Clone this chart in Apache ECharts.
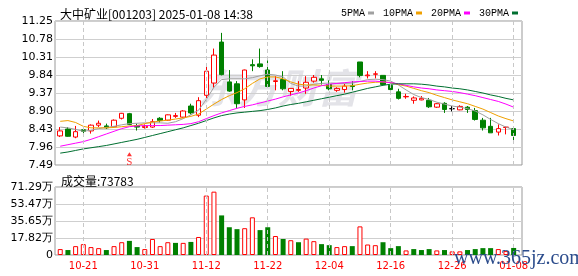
<!DOCTYPE html>
<html><head><meta charset="utf-8">
<script src="https://cdn.jsdelivr.net/npm/echarts@6/dist/echarts.min.js"></script>
<style>html,body{margin:0;padding:0;background:#fff}#c{width:578px;height:276px}</style>
</head><body><div id="c"></div>
<script>
const titleText = '大中矿业[001203] 2025-01-08 14:38';
const volTitle = '成交量:73783';
const maNames = ['5PMA','10PMA','20PMA','30PMA'];
const dates = ['10-16','10-17','10-18','10-21','10-22','10-23','10-24','10-25','10-28','10-29','10-30','10-31',
 '11-01','11-04','11-05','11-06','11-07','11-08','11-11','11-12','11-13','11-14','11-15','11-18','11-19','11-20','11-21','11-22',
 '11-25','11-26','11-27','11-28','11-29','12-02','12-03','12-04','12-05','12-06','12-09','12-10','12-11','12-12','12-13','12-16',
 '12-17','12-18','12-19','12-20','12-23','12-24','12-25','12-26','12-27','12-30','12-31','01-02','01-03','01-06','01-07','01-08'];
const xLabelDates = ['10-21','10-31','11-12','11-22','12-04','12-16','12-26','01-08'];
const opens  = [8.25,8.43,8.22,8.41,8.38,8.53,8.51,8.49,8.71,8.83,8.52,8.47,8.48,8.71,8.66,8.76,8.74,9.03,8.79,9.31,
 9.63,10.70,9.66,9.61,9.19,10.11,10.13,9.97,9.67,9.72,9.41,9.44,9.50,9.68,9.74,9.59,9.44,9.46,9.56,10.18,
 9.82,9.86,9.83,9.57,9.40,9.27,9.18,9.19,9.18,9.00,9.10,8.96,8.93,9.00,8.91,8.66,8.50,8.35,8.47,8.44];
const closes = [8.38,8.24,8.36,8.37,8.53,8.58,8.46,8.66,8.84,8.55,8.48,8.50,8.62,8.65,8.80,8.78,8.90,8.85,9.17,9.94,
 10.36,9.85,9.42,9.09,9.97,10.08,10.06,9.54,9.69,9.48,9.49,9.46,9.65,9.78,9.70,9.48,9.49,9.55,9.54,9.83,
 9.84,9.87,9.59,9.46,9.23,9.28,9.24,9.23,9.01,9.09,8.94,8.96,9.02,8.94,8.68,8.46,8.33,8.44,8.48,8.26];
const highs  = [8.48,8.48,8.51,8.46,8.55,8.65,8.57,8.68,8.85,8.85,8.57,8.55,8.69,8.74,8.81,8.85,8.92,9.09,9.26,10.13,
 10.53,10.94,9.97,9.68,9.98,10.25,10.53,10.22,9.81,9.94,9.49,9.68,9.81,9.84,9.84,9.70,9.52,9.61,9.68,10.18,
 9.94,9.94,9.83,9.61,9.48,9.35,9.28,9.29,9.24,9.11,9.13,9.03,9.05,9.03,8.98,8.72,8.72,8.55,8.49,8.44];
const lows   = [8.22,8.23,8.19,8.27,8.31,8.48,8.43,8.46,8.68,8.53,8.39,8.44,8.46,8.60,8.64,8.72,8.72,8.81,8.74,9.24,
 9.51,9.83,9.40,8.98,8.98,9.94,10.03,9.50,9.44,9.44,9.30,9.40,9.35,9.64,9.59,9.44,9.40,9.38,9.44,9.78,
 9.75,9.75,9.57,9.44,9.20,9.22,9.09,9.18,8.98,8.98,8.85,8.89,8.92,8.85,8.65,8.39,8.33,8.26,8.29,8.13];
const ma5  = [8.48,8.46,8.42,8.37,8.40,8.44,8.47,8.50,8.54,8.57,8.58,8.59,8.59,8.59,8.58,8.62,8.70,8.80,8.92,9.20,
 9.52,9.72,9.74,9.74,9.74,9.77,9.82,9.86,9.84,9.79,9.62,9.55,9.55,9.60,9.62,9.63,9.62,9.62,9.63,9.67,
 9.72,9.73,9.72,9.68,9.58,9.45,9.33,9.25,9.20,9.13,9.08,9.03,9.00,8.96,8.90,8.80,8.68,8.57,8.48,8.41];
const ma10 = [8.63,8.65,8.60,8.50,8.46,8.46,8.46,8.47,8.49,8.51,8.52,8.57,8.61,8.64,8.66,8.69,8.72,8.76,8.82,8.95,
 9.08,9.20,9.30,9.38,9.48,9.62,9.74,9.79,9.79,9.74,9.66,9.60,9.58,9.58,9.57,9.55,9.55,9.55,9.56,9.60,
 9.63,9.65,9.66,9.64,9.59,9.55,9.49,9.43,9.38,9.31,9.25,9.19,9.14,9.09,9.02,8.95,8.86,8.77,8.70,8.64];
const ma20 = [7.98,8.02,8.06,8.10,8.16,8.23,8.30,8.37,8.44,8.49,8.51,8.52,8.52,8.52,8.53,8.54,8.55,8.57,8.62,8.70,
 8.78,8.85,8.91,8.97,9.02,9.06,9.11,9.16,9.21,9.27,9.32,9.37,9.43,9.50,9.56,9.60,9.62,9.64,9.66,9.67,
 9.68,9.68,9.66,9.64,9.61,9.57,9.53,9.50,9.48,9.45,9.43,9.41,9.38,9.34,9.30,9.25,9.20,9.15,9.08,9.00];
const ma30 = [7.80,7.83,7.87,7.91,7.94,7.97,8.00,8.04,8.08,8.12,8.16,8.21,8.26,8.31,8.36,8.41,8.46,8.52,8.58,8.65,
 8.72,8.78,8.82,8.85,8.87,8.89,8.91,8.94,8.98,9.03,9.07,9.10,9.14,9.18,9.22,9.26,9.30,9.34,9.39,9.44,
 9.49,9.53,9.57,9.60,9.61,9.61,9.61,9.60,9.58,9.55,9.53,9.50,9.48,9.45,9.41,9.37,9.32,9.28,9.23,9.19];
// volume in 万手
const volumes = [6.2,5.2,9.3,11.4,8.3,7.2,5.2,9.3,13.4,14.8,8.3,6.2,16.8,9.3,13.4,12.7,12.7,13.7,18.9,62.3,
 66.4,41.5,29.1,27.1,28.1,39.5,26.1,29.1,19.9,16.8,15.5,13.4,17.2,14.5,11.4,10.3,8.3,9.3,9.3,30.0,
 11.0,10.3,13.4,7.2,9.3,4.8,6.2,5.2,6.2,4.8,5.2,3.8,3.8,5.2,6.2,7.2,7.2,6.2,4.1,7.3783];
const volDir = [1,-1,1,1,1,1,-1,1,1,-1,-1,1,1,1,1,-1,1,-1,1,1,
 1,-1,-1,-1,1,1,-1,-1,1,-1,1,-1,1,1,-1,-1,1,1,-1,1,
 1,1,-1,-1,-1,1,-1,-1,-1,1,-1,1,1,-1,-1,-1,-1,1,1,-1];
const priceTicks = ['7.49','7.96','8.43','8.90','9.37','9.84','10.31','10.78','11.25'];
const volTicks = ['0','17.82万','35.65万','53.47万','71.29万'];
const signalDate = '10-29', signalPrice = 7.77, signalText = 'S';

const RED = '#ff0000', GREEN = '#008000';
const maColors = ['#a0a0a0','#f0a000','#ff00ff','#006f30'];
const gridLine = '#cfcfcf';
const vlines = xLabelDates.map(d => ({xAxis: d}));
const vlineStyle = {color:'#c8c8c8', type:[4,3], width:1};

const chart = echarts.init(document.getElementById('c'), null, {renderer:'canvas'});
const L = 55, R = 56, DL = 56.4, DR = 60.5;
const option = {
  animation: false,
  backgroundColor: '#fff',
  textStyle: {fontFamily: '"DejaVu Sans", sans-serif'},
  title: [
    {text: titleText, left: 55, top: 3, textStyle:{fontSize:12, fontWeight:'normal', color:'#000', fontFamily:'"Noto Sans CJK SC"'}},
    {text: volTitle, left: 56, top: 170, textStyle:{fontSize:12, fontWeight:'normal', color:'#000', fontFamily:'"Noto Sans CJK SC"'}}
  ],
  legend: {
    data: maNames, left: 336, top: 3, align:'right', icon:'rect', itemWidth:6, itemHeight:3, itemGap:9,
    textStyle:{fontSize:10, color:'#000', fontFamily:'"Liberation Mono"', padding:[0,-2,0,0]}
  },
  graphic: [
    {type:'text', left: 198, top: 68, z: 0, silent:true,
     style:{text:'东方财富', font:'italic bold 40px "Noto Sans CJK SC"', fill:'#e3e3e8'}},
    {type:'text', left: 454, top: 249, z: 100, silent:true,
     style:{text:'www.365jz.com', font:'20px "Liberation Serif"', fill:'#2c4c8c'}}
  ],
  grid: [
    {left:L, right:R, top:21, bottom:111, show:true, borderColor:'#999', borderWidth:1, backgroundColor:'transparent'},
    {left:DL, right:DR, top:21, bottom:111},
    {left:L, right:R, top:187, bottom:21, show:true, borderColor:'#999', borderWidth:1, backgroundColor:'transparent'},
    {left:DL, right:DR, top:187, bottom:21}
  ],
  xAxis: [
    {gridIndex:0, type:'value', min:0, max:1, show:false},
    {gridIndex:1, type:'category', data:dates, boundaryGap:true, axisLine:{show:false}, axisTick:{show:false}, axisLabel:{show:false}, splitLine:{show:false}},
    {gridIndex:2, type:'value', min:0, max:1, show:false},
    {gridIndex:3, type:'category', data:dates, boundaryGap:true, axisLine:{show:false}, axisTick:{show:false}, splitLine:{show:false},
     axisLabel:{show:true, interval:(i, v) => xLabelDates.indexOf(v) >= 0, color:RED, fontSize:10, margin:6, fontFamily:'"DejaVu Sans"'}}
  ],
  yAxis: [
    {gridIndex:0, type:'value', min:7.49, max:11.25, interval:0.47, axisLine:{show:false}, axisTick:{show:false},
     splitLine:{show:true, lineStyle:{color:gridLine, width:1}},
     axisLabel:{margin:2, fontSize:11, color:'#000', fontFamily:'"DejaVu Sans"',
       formatter: v => priceTicks.find(t => Math.abs(parseFloat(t) - v) < 0.01) || ''}},
    {gridIndex:1, type:'value', min:7.49, max:11.25, show:false},
    {gridIndex:2, type:'value', min:0, max:71.29, interval:17.8225, axisLine:{show:false}, axisTick:{show:false},
     splitLine:{show:true, lineStyle:{color:gridLine, width:1}},
     axisLabel:{margin:2, fontSize:11, color:'#000', fontFamily:'"DejaVu Sans"',
       formatter: v => volTicks[Math.round(v / 17.8225)]}},
    {gridIndex:3, type:'value', min:0, max:71.29, show:false}
  ],
  series: [
    {type:'candlestick', name:'K', xAxisIndex:1, yAxisIndex:1, barWidth:5,
     data: dates.map((d, i) => [opens[i], closes[i], lows[i], highs[i]]),
     itemStyle:{color:'#ffffff', color0:GREEN, borderColor:RED, borderColor0:GREEN, borderColorDoji:'#000000', borderWidth:1},
     markLine:{silent:true, symbol:['none','none'], label:{show:false}, lineStyle:vlineStyle, data:vlines, animation:false}
    },
    ...maNames.map((n, k) => ({
      type:'line', name:n, xAxisIndex:1, yAxisIndex:1, symbol:'none', smooth:false,
      data:[ma5, ma10, ma20, ma30][k], itemStyle:{color:maColors[k]}, lineStyle:{color:maColors[k], width:1}
    })),
    {type:'scatter', name:'signal', xAxisIndex:1, yAxisIndex:1, symbol:'triangle', symbolSize:[5,4],
     data:[[signalDate, signalPrice]], itemStyle:{color:RED},
     label:{show:true, formatter:signalText, position:'bottom', distance:0, color:RED, fontSize:11, fontFamily:'"Liberation Serif"'}},
    {type:'bar', name:'VOL', xAxisIndex:3, yAxisIndex:3, barWidth:5,
     data: volumes.map((v, i) => ({value:v, itemStyle: volDir[i] > 0 ? {color:'#ffffff', borderColor:RED, borderWidth:1} : {color:GREEN}})),
     markLine:{silent:true, symbol:['none','none'], label:{show:false}, lineStyle:vlineStyle, data:vlines, animation:false}
    }
  ]
};
chart.setOption(option);
</script></body></html>
